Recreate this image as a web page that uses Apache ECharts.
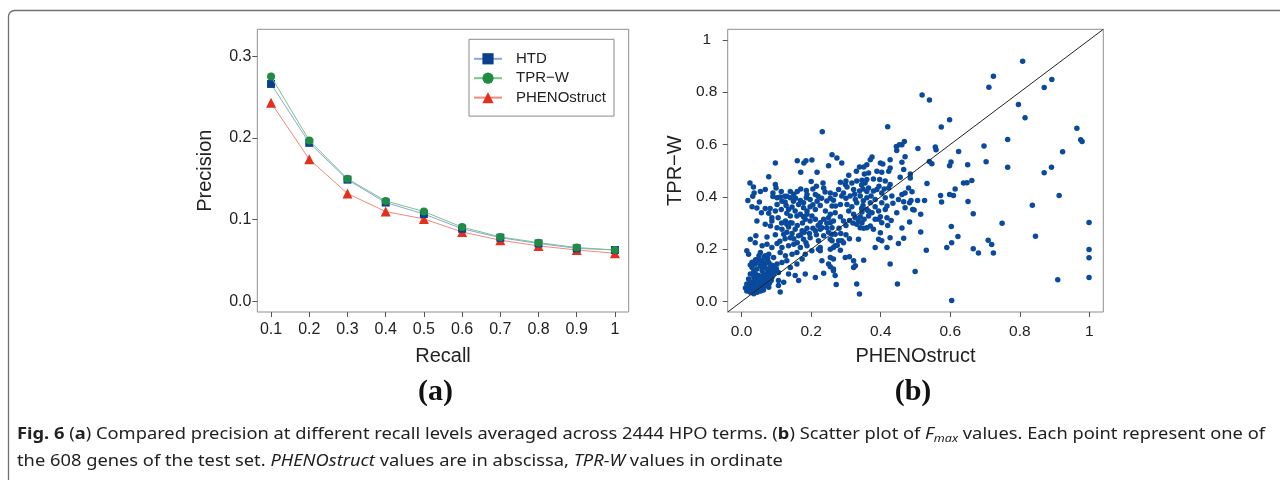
<!DOCTYPE html>
<html><head><meta charset="utf-8">
<script src="https://cdn.jsdelivr.net/npm/echarts@6/dist/echarts.min.js"></script>
<style>html,body{margin:0;padding:0;background:#fff}#c{width:1280px;height:480px}</style>
</head><body><div id="c"></div><script>
// ---- panel (a) data ----
const recallLevels = [0.1,0.2,0.3,0.4,0.5,0.6,0.7,0.8,0.9,1.0];
const recallTickLabels = ['0.1','0.2','0.3','0.4','0.5','0.6','0.7','0.8','0.9','1'];
const precisionTicks = [0,0.1,0.2,0.3];
const precisionTickLabels = ['0.0','0.1','0.2','0.3'];
const htdPrecision   = [0.266,0.194,0.149,0.121,0.107,0.089,0.078,0.071,0.065,0.063];
const tprwPrecision  = [0.275,0.197,0.150,0.123,0.110,0.091,0.079,0.072,0.066,0.063];
const phenoPrecision = [0.243,0.174,0.132,0.110,0.101,0.085,0.075,0.068,0.063,0.059];
const seriesNames = ['HTD','TPR\u2212W','PHENOstruct'];

// ---- panel (b) data: [PHENOstruct Fmax, TPR-W Fmax] per gene ----
const fmaxTicks = [0,0.2,0.4,0.6,0.8,1];
const fmaxTickLabels = ['0.0','0.2','0.4','0.6','0.8','1'];
const fmaxPoints = [
[0.097,0.529],[0.160,0.538],[0.179,0.529],[0.185,0.538],[0.202,0.541],[0.078,0.477],[0.170,0.494],[0.217,0.494],[0.200,0.459],[0.024,0.453],[0.034,0.438],
[0.097,0.447],[0.099,0.434],[0.068,0.428],[0.054,0.420],[0.036,0.415],[0.032,0.402],[0.090,0.415],[0.114,0.420],[0.124,0.402],[0.186,0.424],[0.188,0.409],[0.212,0.409],
[0.018,0.386],[0.051,0.380],[0.090,0.401],[0.102,0.396],[0.111,0.399],[0.130,0.402],[0.140,0.396],[0.149,0.383],[0.169,0.386],[0.178,0.377],[0.164,0.371],[0.186,0.396],[0.197,0.390],[0.217,0.383],[0.220,0.402],
[0.030,0.362],[0.044,0.357],[0.057,0.339],[0.068,0.355],[0.082,0.355],[0.078,0.337],[0.097,0.346],[0.114,0.352],
[0.102,0.371],[0.116,0.383],[0.128,0.367],[0.135,0.352],[0.145,0.361],[0.154,0.346],[0.159,0.327],[0.140,0.327],[0.130,0.337],
[0.178,0.358],[0.188,0.346],[0.197,0.362],[0.212,0.352],[0.226,0.367],
[0.087,0.320],[0.105,0.320],[0.169,0.333],[0.178,0.324],[0.188,0.333],[0.202,0.327],
[0.260,0.561],[0.274,0.548],[0.288,0.529],[0.250,0.519],[0.375,0.552],[0.370,0.542],[0.360,0.523],[0.399,0.529],[0.406,0.525],[0.427,0.542],
[0.454,0.599],[0.445,0.592],[0.446,0.577],
[0.339,0.514],[0.351,0.514],[0.330,0.498],[0.308,0.482],[0.353,0.487],[0.365,0.491],[0.389,0.498],[0.403,0.494],[0.423,0.498],[0.427,0.510],
[0.234,0.453],[0.236,0.434],[0.240,0.418],
[0.284,0.456],[0.298,0.447],[0.303,0.438],[0.279,0.428],[0.269,0.409],[0.255,0.415],[0.245,0.384],[0.264,0.387],[0.260,0.365],[0.284,0.371],[0.288,0.403],[0.293,0.415],
[0.317,0.453],[0.331,0.460],[0.346,0.463],[0.355,0.453],[0.360,0.466],[0.379,0.468],[0.397,0.466],[0.413,0.460],[0.423,0.434],[0.427,0.447],
[0.322,0.428],[0.339,0.422],[0.349,0.430],[0.365,0.434],[0.379,0.422],[0.389,0.428],[0.403,0.415],
[0.312,0.403],[0.327,0.390],[0.341,0.403],[0.360,0.396],[0.372,0.403],[0.384,0.390],[0.413,0.396],[0.432,0.403],[0.451,0.390],
[0.303,0.371],[0.317,0.362],[0.331,0.377],[0.349,0.367],[0.370,0.377],[0.384,0.362],[0.403,0.377],[0.418,0.365],[0.435,0.375],
[0.241,0.346],[0.255,0.333],[0.269,0.339],[0.284,0.324],[0.308,0.346],[0.322,0.333],[0.346,0.342],[0.360,0.352],[0.375,0.339],[0.394,0.346],[0.413,0.352],[0.446,0.339],[0.470,0.358],
[0.327,0.320],[0.341,0.324],[0.399,0.324],[0.418,0.320],
[0.044,0.308],[0.068,0.295],[0.087,0.308],[0.126,0.308],[0.140,0.301],[0.183,0.314],[0.197,0.308],[0.212,0.314],[0.226,0.301],
[0.083,0.289],[0.102,0.282],[0.116,0.276],[0.135,0.285],[0.154,0.276],[0.174,0.270],[0.188,0.280],[0.212,0.270],[0.226,0.276],
[0.025,0.238],[0.041,0.251],[0.073,0.247],[0.097,0.255],[0.121,0.257],[0.140,0.244],[0.164,0.251],[0.178,0.238],[0.197,0.244],[0.221,0.232],
[0.039,0.225],[0.059,0.213],[0.073,0.219],[0.087,0.206],[0.102,0.222],[0.116,0.206],[0.135,0.213],[0.150,0.219],[0.169,0.206],[0.188,0.213],[0.202,0.194],[0.221,0.200],
[0.020,0.181],[0.015,0.194],[0.054,0.187],[0.068,0.175],[0.078,0.181],[0.092,0.168],[0.111,0.187],[0.126,0.175],[0.145,0.181],[0.159,0.187],[0.183,0.181],[0.174,0.162],
[0.049,0.162],[0.059,0.156],[0.039,0.143],[0.054,0.137],[0.068,0.143],[0.078,0.149],[0.044,0.124],[0.059,0.118],[0.073,0.124],[0.082,0.130],[0.092,0.137],[0.102,0.143],[0.116,0.149],[0.130,0.156],[0.140,0.130],[0.159,0.143],[0.154,0.099],[0.135,0.105],[0.106,0.111],[0.092,0.105],[0.078,0.099],[0.063,0.105],[0.049,0.099],[0.035,0.092],[0.025,0.105],[0.020,0.086],[0.030,0.074],[0.039,0.080],[0.054,0.080],[0.068,0.086],[0.078,0.080],[0.087,0.092],[0.015,0.067],[0.025,0.061],[0.035,0.055],[0.044,0.061],[0.054,0.048],[0.063,0.067],[0.073,0.061],[0.020,0.048],[0.011,0.052],[0.030,0.042],[0.039,0.036],[0.049,0.042],[0.063,0.044],[0.078,0.055],[0.106,0.080],[0.121,0.074],[0.106,0.061],[0.183,0.105],[0.212,0.092],[0.164,0.080],[0.111,0.036],
[0.030,0.130],[0.035,0.115],[0.040,0.105],[0.045,0.090],[0.050,0.085],[0.055,0.095],[0.060,0.090],[0.065,0.080],[0.070,0.100],[0.075,0.110],[0.080,0.115],[0.085,0.120],[0.060,0.130],[0.065,0.140],[0.070,0.150],[0.055,0.155],[0.045,0.150],[0.040,0.160],[0.035,0.070],[0.040,0.065],[0.045,0.075],[0.050,0.060],[0.055,0.065],[0.060,0.055],[0.065,0.060],[0.070,0.070],[0.075,0.075],[0.080,0.070],[0.085,0.080],[0.025,0.075],[0.020,0.060],[0.015,0.040],[0.025,0.035],[0.035,0.030],[0.045,0.035],[0.055,0.040],[0.050,0.050],[0.040,0.050],[0.030,0.055],[0.090,0.125],[0.095,0.115],[0.100,0.125],[0.085,0.140],[0.075,0.165],[0.065,0.170],[0.050,0.175],[0.030,0.150],[0.025,0.140],
[0.236,0.314],[0.250,0.320],[0.255,0.301],[0.264,0.308],[0.231,0.282],[0.245,0.282],[0.260,0.282],[0.293,0.308],[0.336,0.308],[0.346,0.301],[0.365,0.327],[0.394,0.314],[0.403,0.301],[0.379,0.276],[0.360,0.282],[0.351,0.280],[0.341,0.282],[0.331,0.295],[0.399,0.263],[0.394,0.238],[0.403,0.232],[0.427,0.244],[0.418,0.206],[0.384,0.206],[0.451,0.222],
[0.260,0.257],[0.269,0.257],[0.236,0.251],[0.255,0.238],[0.260,0.232],[0.279,0.232],[0.288,0.232],[0.293,0.225],[0.264,0.206],[0.269,0.213],[0.284,0.196],[0.255,0.200],[0.336,0.238],[0.226,0.194],[0.255,0.168],[0.264,0.162],[0.250,0.143],[0.255,0.133],[0.264,0.124],[0.269,0.099],[0.264,0.118],[0.236,0.108],[0.298,0.168],[0.310,0.171],[0.322,0.156],[0.322,0.130],[0.327,0.137],[0.351,0.158],[0.272,0.065],[0.331,0.067],[0.339,0.029],[0.427,0.143],[0.448,0.067],[0.231,0.156],[0.226,0.206],
[0.110,0.230],[0.125,0.240],[0.130,0.265],[0.145,0.260],[0.150,0.240],[0.160,0.225],[0.170,0.255],[0.180,0.265],[0.185,0.225],[0.195,0.260],[0.205,0.280],[0.215,0.255],[0.220,0.290],[0.175,0.300],[0.160,0.290],[0.145,0.300],[0.130,0.295],[0.115,0.300],[0.245,0.300],[0.250,0.265],[0.280,0.280],[0.300,0.290],[0.310,0.310],[0.320,0.300],[0.300,0.255],[0.310,0.240],[0.275,0.215],[0.285,0.260],
[0.150,0.410],[0.160,0.420],[0.170,0.430],[0.205,0.430],[0.215,0.440],[0.140,0.420],[0.125,0.380],[0.155,0.395],[0.205,0.370],[0.230,0.395],[0.255,0.395],[0.270,0.365],[0.300,0.395],[0.325,0.410],[0.350,0.385],[0.360,0.420],[0.395,0.440],[0.410,0.430],[0.345,0.445],[0.300,0.460],
[0.352,0.314],[0.370,0.289],[0.384,0.314],[0.345,0.355],[0.365,0.345],[0.420,0.290],[0.430,0.310],
[0.461,0.599],[0.468,0.611],[0.507,0.585],[0.470,0.553],[0.461,0.532],[0.466,0.504],[0.456,0.475],[0.485,0.487],[0.485,0.472],[0.480,0.434],[0.470,0.415],[0.461,0.409],[0.490,0.419],[0.466,0.381],[0.483,0.377],[0.487,0.386],[0.506,0.386],[0.526,0.386],[0.492,0.352],[0.496,0.350],[0.515,0.333],[0.483,0.304],[0.461,0.281],[0.515,0.266],[0.466,0.242],[0.531,0.196],[0.499,0.115],[0.533,0.451],[0.540,0.535],[0.547,0.526],[0.557,0.590],[0.559,0.580],[0.519,0.789],[0.540,0.770],[0.574,0.667],[0.598,0.694],[0.602,0.533],[0.598,0.519],[0.624,0.573],[0.572,0.405],[0.575,0.380],[0.598,0.409],[0.609,0.405],[0.614,0.430],[0.638,0.453],[0.648,0.454],[0.662,0.462],[0.650,0.523],[0.651,0.382],[0.666,0.335],[0.603,0.287],[0.622,0.248],[0.604,0.225],[0.590,0.206],[0.666,0.202],[0.681,0.185],[0.709,0.234],[0.719,0.218],[0.724,0.185],[0.749,0.299],[0.697,0.594],[0.703,0.534],[0.765,0.619],[0.765,0.513],[0.711,0.819],[0.724,0.861],[0.808,0.918],[0.796,0.753],[0.815,0.702],[0.870,0.818],[0.892,0.848],[0.964,0.662],[0.975,0.618],[0.979,0.611],[0.923,0.572],[0.870,0.492],[0.891,0.513],[0.913,0.405],[0.836,0.368],[0.845,0.249],[0.999,0.302],[0.999,0.199],[0.999,0.167],[0.999,0.092],[0.909,0.083],[0.604,0.004],
[0.232,0.649],[0.420,0.668]
];

// ---- caption text ----
const captionLine1 = '{fb|Fig. 6} ({b|a}) Compared precision at different recall levels averaged across 2444 HPO terms. ({b|b}) Scatter plot of {i|F}{sub|max} values. Each point represent one of';
const captionLine2 = 'the 608 genes of the test set. {i|PHENOstruct} values are in abscissa, {i|TPR-W} values in ordinate';
const captionSegments1 = [['bold','Fig. 6'],['normal',' ('],['bold','a'],['normal',') Compared precision at different recall levels averaged across 2444 HPO terms. ('],['bold','b'],['normal',') Scatter plot of '],['italic','F'],['sub','max'],['normal',' values. Each point represent one of']];

const CAP_FONT = '"Noto Sans", sans-serif';
const CAP_SIZE = 16;
const cv = document.createElement('canvas').getContext('2d');
function segWidth(kind, s){
  if (kind==='bold') cv.font = 'bold '+CAP_SIZE+'px '+CAP_FONT;
  else if (kind==='italic') cv.font = 'italic '+CAP_SIZE+'px '+CAP_FONT;
  else if (kind==='sub') cv.font = 'italic 11px '+CAP_FONT;
  else cv.font = CAP_SIZE+'px '+CAP_FONT;
  return cv.measureText(s).width;
}
const line1Width = captionSegments1.reduce((a,s)=>a+segWidth(s[0],s[1]),0);
const capScale = (1265-17)/line1Width;

const SANS = '"Liberation Sans", Arial, Helvetica, sans-serif';
function labelFrom(ticks, labels){
  return v => { for (let i=0;i<ticks.length;i++){ if (Math.abs(ticks[i]-v)<1e-6) return labels[i]; } return ''; };
}
const fLo = -0.04, fHi = 1.04;
const capRich = {
  fb:{fontWeight:'bold', fontFamily:CAP_FONT, fontSize:CAP_SIZE, fill:'#222', lineHeight:20},
  b:{fontWeight:'bold', fontFamily:CAP_FONT, fontSize:CAP_SIZE, fill:'#222', lineHeight:20},
  i:{fontStyle:'italic', fontFamily:CAP_FONT, fontSize:CAP_SIZE, fill:'#222', lineHeight:20},
  sub:{fontStyle:'italic', fontFamily:CAP_FONT, fontSize:11, fill:'#222', lineHeight:12, verticalAlign:'bottom'}
};

const chart = echarts.init(document.getElementById('c'), null, {renderer:'canvas'});
const axisTickStyle = {show:true, inside:false, length:5, lineStyle:{color:'#555', width:1}};
const hiddenLine = {show:false, onZero:false};
chart.setOption({
  animation:false,
  backgroundColor:'#fff',
  grid:[
    {left:257.3, top:29.3, width:371.4, height:282.7, show:true, borderColor:'#8f8f8f', borderWidth:1, containLabel:false},
    {left:727.7, top:29.3, width:375.6, height:282.7, show:true, borderColor:'#8f8f8f', borderWidth:1, containLabel:false}
  ],
  legend:{
    data:seriesNames, orient:'vertical', left:469, top:39.3,
    borderColor:'#8a8a8a', borderWidth:1, borderRadius:0,
    padding:[12,8,11,4], itemWidth:28, itemHeight:14, itemGap:4.4,
    textStyle:{fontFamily:SANS, fontSize:15, color:'#222', lineHeight:14, padding:[0,0,0,9]}
  },
  xAxis:[
    {type:'value', gridIndex:0, min:0.064, max:1.036,
     axisLine:hiddenLine, splitLine:{show:false},
     axisTick:Object.assign({customValues:recallLevels}, axisTickStyle),
     axisLabel:{customValues:recallLevels, formatter:labelFrom(recallLevels, recallTickLabels), margin:10, fontFamily:SANS, fontSize:16, color:'#222'},
     name:'Recall', nameLocation:'middle', nameGap:34, nameTextStyle:{fontFamily:SANS, fontSize:20, color:'#222'}},
    {type:'value', gridIndex:1, min:fLo, max:fHi,
     axisLine:hiddenLine, splitLine:{show:false},
     axisTick:Object.assign({customValues:fmaxTicks}, axisTickStyle),
     axisLabel:{customValues:fmaxTicks, formatter:labelFrom(fmaxTicks, fmaxTickLabels), margin:12, fontFamily:SANS, fontSize:15.5, color:'#222'},
     name:'PHENOstruct', nameLocation:'middle', nameGap:34, nameTextStyle:{fontFamily:SANS, fontSize:20, color:'#222'}}
  ],
  yAxis:[
    {type:'value', gridIndex:0, min:-0.0128, max:0.3328,
     axisLine:hiddenLine, splitLine:{show:false},
     axisTick:Object.assign({customValues:precisionTicks}, axisTickStyle),
     axisLabel:{customValues:precisionTicks, formatter:labelFrom(precisionTicks, precisionTickLabels), margin:17, align:'center', fontFamily:SANS, fontSize:16, color:'#222'},
     name:'Precision', nameLocation:'middle', nameGap:42, nameRotate:90, nameTextStyle:{fontFamily:SANS, fontSize:20, color:'#222'}},
    {type:'value', gridIndex:1, min:fLo, max:fHi,
     axisLine:hiddenLine, splitLine:{show:false},
     axisTick:Object.assign({customValues:fmaxTicks}, axisTickStyle),
     axisLabel:{customValues:fmaxTicks, formatter:labelFrom(fmaxTicks, fmaxTickLabels), margin:21, align:'center', fontFamily:SANS, fontSize:15.5, color:'#222'},
     name:'TPR\u2212W', nameLocation:'middle', nameGap:42, nameRotate:90, nameTextStyle:{fontFamily:SANS, fontSize:20, color:'#222'}}
  ],
  series:[
    {type:'line', name:seriesNames[0], xAxisIndex:0, yAxisIndex:0,
     data:recallLevels.map((r,i)=>[r,htdPrecision[i]]),
     symbol:'rect', symbolSize:8, itemStyle:{color:'#0b3f8e'}, lineStyle:{color:'#8aa8d8', width:1}, z:3},
    {type:'line', name:seriesNames[1], xAxisIndex:0, yAxisIndex:0,
     data:recallLevels.map((r,i)=>[r,tprwPrecision[i]]),
     symbol:'circle', symbolSize:8, itemStyle:{color:'#1f8b43'}, lineStyle:{color:'#7cc28e', width:1}, z:4},
    {type:'line', name:seriesNames[2], xAxisIndex:0, yAxisIndex:0,
     data:recallLevels.map((r,i)=>[r,phenoPrecision[i]]),
     symbol:'triangle', symbolSize:10, itemStyle:{color:'#e2301f'}, lineStyle:{color:'#f28a7c', width:1}, z:2},
    {type:'scatter', name:'genes', xAxisIndex:1, yAxisIndex:1,
     data:fmaxPoints, symbolSize:5.5, itemStyle:{color:'#0a4a9c', opacity:1},
     markLine:{silent:true, symbol:['none','none'], animation:false, label:{show:false},
       lineStyle:{color:'#222', width:1, type:'solid'},
       data:[[{coord:[fLo,fLo]},{coord:[fHi,fHi]}]]}}
  ],
  graphic:[
    {type:'rect', silent:true, shape:{x:8.5, y:10.5, width:1300, height:520, r:6}, style:{fill:'none', stroke:'#707070', lineWidth:1.3}},
    {type:'text', silent:true, x:435.5, y:392, style:{text:'(a)', font:'bold 30px "Liberation Serif", "Times New Roman", serif', fill:'#111', align:'center', verticalAlign:'middle'}},
    {type:'text', silent:true, x:913, y:392, style:{text:'(b)', font:'bold 30px "Liberation Serif", "Times New Roman", serif', fill:'#111', align:'center', verticalAlign:'middle'}},
    {type:'text', silent:true, x:17, y:434, scaleX:capScale, style:{text:captionLine1, rich:capRich, fontFamily:CAP_FONT, fontSize:CAP_SIZE, fill:'#222', lineHeight:20, verticalAlign:'middle', align:'left'}},
    {type:'text', silent:true, x:17, y:461, scaleX:capScale, style:{text:captionLine2, rich:capRich, fontFamily:CAP_FONT, fontSize:CAP_SIZE, fill:'#222', lineHeight:20, verticalAlign:'middle', align:'left'}}
  ]
});
</script></body></html>
